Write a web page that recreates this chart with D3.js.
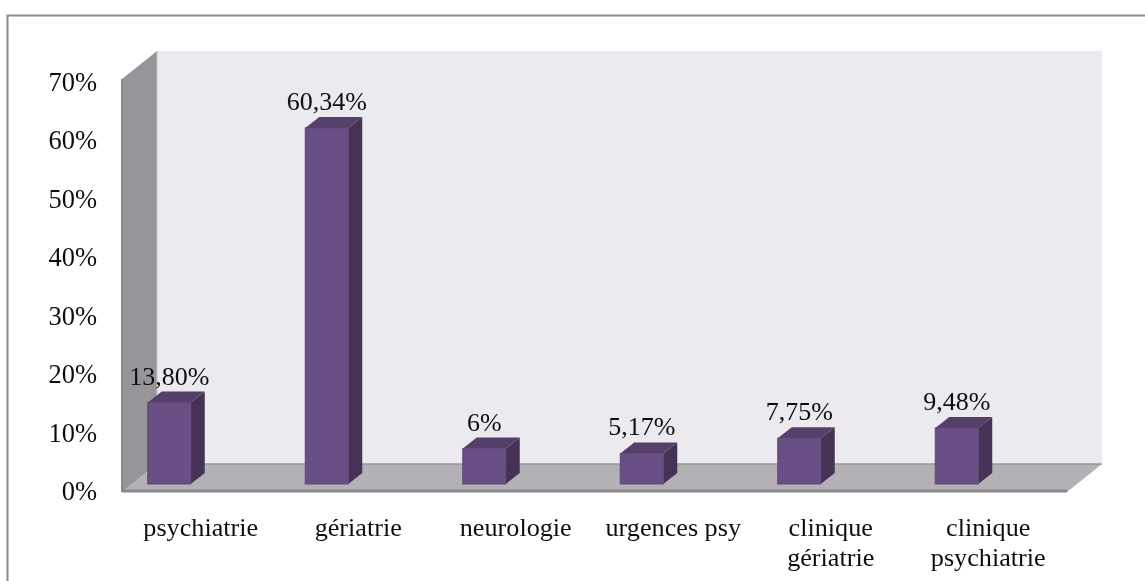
<!DOCTYPE html>
<html><head><meta charset="utf-8">
<script src="https://cdn.jsdelivr.net/npm/d3@7"></script>
<style>html,body{margin:0;padding:0;background:#fff}svg{display:block}text{font-family:"Liberation Serif",serif;fill:#111}</style>
</head><body><svg width="1145" height="581"></svg>
<script>
const categories=[["psychiatrie"],["gériatrie"],["neurologie"],["urgences psy"],["clinique","gériatrie"],["clinique","psychiatrie"]];
const values=[13.8,60.34,6,5.17,7.75,9.48];
const valueLabels=["13,80%","60,34%","6%","5,17%","7,75%","9,48%"];
const ticks=[0,10,20,30,40,50,60,70];
const svg=d3.select("svg");
const defs=svg.append("defs");
defs.append("filter").attr("id","soft").append("feGaussianBlur").attr("stdDeviation",0.4);
const root=svg.append("g").attr("filter","url(#soft)");
root.append("rect").attr("width",1145).attr("height",581).attr("fill","#fff");
const L=122,R=1067,B=492,T=79,DX=35,DY=-28;
root.append("path").attr("d","M7.5,581V15.5H1145").attr("fill","none").attr("stroke","#8c8c8c").attr("stroke-width",2);
const yAxis=d3.scaleLinear().domain([0,70]).range([491,82]);
const yBar=d3.scaleLinear().domain([0,70]).range([484,71]);
const x=d3.scaleBand().domain(d3.range(6)).range([L,R]);
// walls
root.append("path").attr("d",`M${L+DX},${T+DY}H${R+DX}V${B+DY}H${L+DX}Z`).attr("fill","#eceaef");
root.append("path").attr("d",`M${L},${T}L${L+DX},${T+DY}V${B+DY}L${L},${B}Z`).attr("fill","#979599");
root.append("path").attr("d",`M${L},${B}L${L+DX},${B+DY}H${R+DX}L${R},${B}Z`).attr("fill","#b3b1b5");
root.append("path").attr("d",`M${L+DX},${B+DY}H${R+DX}`).attr("stroke","#999").attr("fill","none").attr("stroke-width",1.5);
root.append("path").attr("d",`M${L},${B-1}H${R}`).attr("stroke","#8a888c").attr("stroke-width",3);
root.append("path").attr("d",`M${L},${T}V${B}`).attr("stroke","#8a888c").attr("stroke-width",2);
root.append("path").attr("d",`M${L+DX},${T+DY}V${B+DY}`).attr("stroke","#c4c2c8").attr("stroke-width",1);
// bars
const W=43,dx=14,dy=-11,off=-31.5;
const g=root.selectAll("g.bar").data(values).join("g").attr("class","bar");
g.each(function(v,i){
 const s=d3.select(this),x0=x(i)+x.bandwidth()/2+off-W/2,x1=x0+W,yt=yBar(v),yb=yBar(0);
 s.append("path").attr("d",`M${x1},${yb}L${x1+dx},${yb+dy}V${yt+dy}L${x1},${yt}Z`).attr("fill","#443355");
 s.append("path").attr("d",`M${x0},${yt}L${x0+dx},${yt+dy}H${x1+dx}L${x1},${yt}Z`).attr("fill","#553f6b");
 s.append("rect").attr("x",x0).attr("y",yt).attr("width",W).attr("height",yb-yt).attr("fill","#6a5086").attr("stroke","#5e4778").attr("stroke-width",1);
 s.append("text").attr("x",x0+W/2).attr("y",yt-18).attr("text-anchor","middle").attr("font-size",26).text(valueLabels[i]);
});
// y ticks
root.selectAll("text.y").data(ticks).join("text").attr("class","y").attr("x",97).attr("y",d=>yAxis(d)+9).attr("text-anchor","end").attr("font-size",26.5).text(d=>d+"%");
// categories
const c=root.selectAll("text.c").data(categories).join("text").attr("class","c").attr("text-anchor","middle").attr("font-size",26.2);
c.each(function(lines,i){
 d3.select(this).selectAll("tspan").data(lines).join("tspan").attr("x",x(i)+x.bandwidth()/2).attr("y",(d,j)=>536+j*30).text(d=>d);
});
</script></body></html>
